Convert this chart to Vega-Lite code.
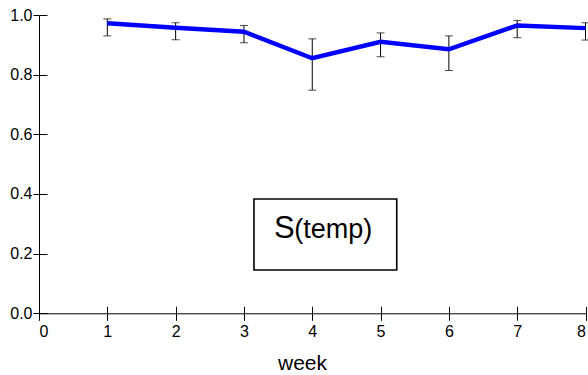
{
  "$schema": "https://vega.github.io/schema/vega-lite/v6.json",
  "autosize": {"type": "none"},
  "padding": {"left": 39, "top": 15, "right": 2.5, "bottom": 61.7},
  "width": 546.5,
  "height": 298.3,
  "config": {
    "view": {"stroke": null},
    "font": "Liberation Sans",
    "axis": {"grid": false, "domainColor": "#000", "tickColor": "#000", "labelColor": "#000", "titleColor": "#000", "labelFont": "Liberation Sans", "titleFont": "Liberation Sans"}
  },
  "data": {"values": [
    {"week": 1, "mean": 0.972, "lo": 0.930, "hi": 0.987},
    {"week": 2, "mean": 0.957, "lo": 0.917, "hi": 0.974},
    {"week": 3, "mean": 0.944, "lo": 0.907, "hi": 0.965},
    {"week": 4, "mean": 0.855, "lo": 0.748, "hi": 0.920},
    {"week": 5, "mean": 0.910, "lo": 0.860, "hi": 0.940},
    {"week": 6, "mean": 0.885, "lo": 0.814, "hi": 0.930},
    {"week": 7, "mean": 0.965, "lo": 0.924, "hi": 0.982},
    {"week": 8, "mean": 0.956, "lo": 0.916, "hi": 0.974}
  ]},
  "resolve": {"axis": {"x": "independent", "y": "independent"}},
  "layer": [
    {
      "mark": {"type": "rule", "color": "#000", "strokeWidth": 1},
      "encoding": {
        "x": {"field": "week", "type": "quantitative", "scale": {"domain": [0, 8], "nice": false, "zero": false},
          "axis": {"orient": "bottom", "values": [0,1,2,3,4,5,6,7,8], "format": "d", "tickSize": 7, "labelPadding": 3, "labelFontSize": 16,
            "title": "week", "titleFontSize": 21, "titleFontWeight": "normal", "titleX": 263, "titleY": 56, "titleBaseline": "alphabetic", "titleAlign": "center", "titleAnchor": null}},
        "y": {"field": "lo", "type": "quantitative", "scale": {"domain": [0, 1], "nice": false},
          "axis": {"orient": "left", "values": [0, 0.2, 0.4, 0.6, 0.8, 1.0], "format": ".1f", "tickSize": 6, "labelPadding": 1, "labelFontSize": 16, "labelBaseline": "middle", "title": null}},
        "y2": {"field": "hi"}
      }
    },
    {
      "mark": {"type": "tick", "orient": "horizontal", "color": "#000", "size": 8, "thickness": 1},
      "encoding": {
        "x": {"field": "week", "type": "quantitative",
          "axis": {"orient": "bottom", "values": [0,1,2,3,4,5,6,7,8], "tickSize": -7, "labels": false, "domain": false, "title": null}},
        "y": {"field": "lo", "type": "quantitative",
          "axis": {"orient": "left", "values": [0, 0.2, 0.4, 0.6, 0.8, 1.0], "tickSize": -8, "labels": false, "domain": false, "title": null}}
      }
    },
    {
      "mark": {"type": "tick", "orient": "horizontal", "color": "#000", "size": 8, "thickness": 1},
      "encoding": {
        "x": {"field": "week", "type": "quantitative", "axis": null},
        "y": {"field": "hi", "type": "quantitative", "axis": null}
      }
    },
    {
      "mark": {"type": "line", "color": "#0000ff", "strokeWidth": 4.5},
      "encoding": {
        "x": {"field": "week", "type": "quantitative", "axis": null},
        "y": {"field": "mean", "type": "quantitative", "axis": null}
      }
    },
    {
      "data": {"values": [{}]},
      "mark": {"type": "rect", "fill": "#fff", "stroke": "#000", "strokeWidth": 1.6},
      "encoding": {
        "x": {"datum": 3.147, "type": "quantitative", "axis": null},
        "x2": {"datum": 5.237},
        "y": {"datum": 0.383, "type": "quantitative", "axis": null},
        "y2": {"datum": 0.145}
      }
    },
    {
      "data": {"values": [{"t": "S"}]},
      "mark": {"type": "text", "align": "left", "baseline": "alphabetic", "fontSize": 31, "color": "#000"},
      "encoding": {
        "text": {"field": "t"},
        "x": {"datum": 3.44, "type": "quantitative", "axis": null},
        "y": {"datum": 0.251, "type": "quantitative", "axis": null}
      }
    },
    {
      "data": {"values": [{"t": "(temp)"}]},
      "mark": {"type": "text", "align": "left", "baseline": "alphabetic", "fontSize": 27, "color": "#000"},
      "encoding": {
        "text": {"field": "t"},
        "x": {"datum": 3.735, "type": "quantitative", "axis": null},
        "y": {"datum": 0.251, "type": "quantitative", "axis": null}
      }
    }
  ]
}
